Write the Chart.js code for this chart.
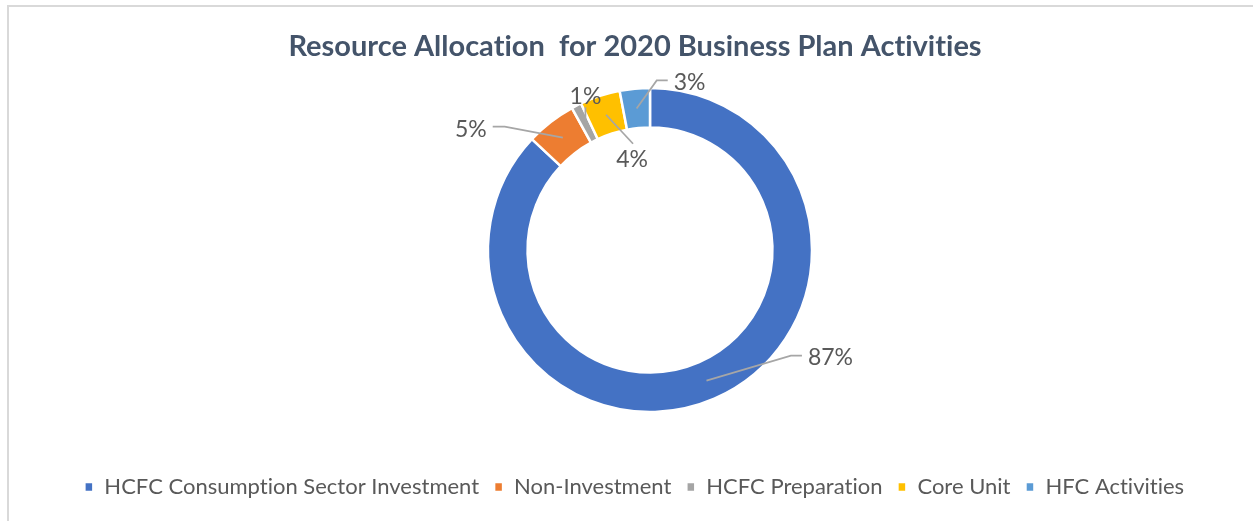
<!DOCTYPE html>
<html>
<head>
<meta charset="utf-8">
<script src="https://cdn.jsdelivr.net/npm/chart.js@4/dist/chart.umd.min.js"></script>
<style>
  html, body { margin: 0; padding: 0; background: #fff; }
  #frame {
    position: absolute; left: 7px; top: 5px;
    width: 1244px; height: 514px;
    border-left: 2px solid #d9d9d9;
    border-top: 2px solid #d9d9d9;
  }
</style>
</head>
<body>
<div id="frame"><canvas id="chart" width="1244" height="514"></canvas></div>
<script>
// data
const categories = ['HCFC Consumption Sector Investment', 'Non-Investment', 'HCFC Preparation', 'Core Unit', 'HFC Activities'];
const shares = [87, 5, 1, 4, 3];
const colors = ['#4472C4', '#ED7D31', '#A5A5A5', '#FFC000', '#5B9BD5'];

// where each percentage label sits relative to the middle of its slice
const labelPlacement = [
    { dx: 124, dy: -23, tail: 'right' },
    { dx: -92, dy: -8, tail: 'left' },
    { dx: 0, dy: -27, tail: 'up' },
    { dx: 26, dy: 45, tail: 'down' },
    { dx: 53, dy: -26, tail: 'right' }
];

const titleFont = 29;
const legendFont = 22;
const legendPad = 15;

// pushes the plot area right so the ring sits where Excel put it
const leftSpacer = {
    position: 'left', weight: 0, fullSize: false, options: {},
    top: 0, left: 0, right: 0, bottom: 0, width: 0, height: 0,
    isHorizontal() { return false; },
    update(maxWidth, maxHeight) { this.width = 30; this.height = maxHeight; },
    draw() {}
};

const sliceLabels = {
    id: 'sliceLabels',
    beforeInit(chart) {
        Chart.layouts.addBox(chart, leftSpacer);
    },
    beforeDraw(chart) {
        // no "ti" ligatures from Lato
        chart.ctx.textRendering = 'optimizeSpeed';
    },
    afterDatasetsDraw(chart) {
        const ctx = chart.ctx;
        const meta = chart.getDatasetMeta(0);
        ctx.save();
        ctx.font = '23px Lato';
        ctx.textAlign = 'center';
        ctx.textBaseline = 'middle';
        meta.data.forEach((arc, i) => {
            const p = arc.getProps(['x', 'y', 'startAngle', 'endAngle', 'innerRadius', 'outerRadius'], true);
            const mid = (p.startAngle + p.endAngle) / 2;
            const r = (p.innerRadius + p.outerRadius) / 2;
            const ax = p.x + Math.cos(mid) * r;
            const ay = p.y + Math.sin(mid) * r;
            const place = labelPlacement[i];
            const tx = ax + place.dx;
            const ty = ay + place.dy;
            const text = shares[i] + '%';
            const w = ctx.measureText(text).width;

            ctx.strokeStyle = '#A6A6A6';
            ctx.lineWidth = 1.75;
            ctx.beginPath();
            ctx.moveTo(ax, ay);
            if (place.tail === 'right') {
                ctx.lineTo(tx - w / 2 - 17, ty - 2);
                ctx.lineTo(tx - w / 2 - 6, ty - 2);
            } else if (place.tail === 'left') {
                ctx.lineTo(tx + w / 2 + 18, ty - 3);
                ctx.lineTo(tx + w / 2 + 6, ty - 3);
            } else if (place.tail === 'up') {
                ctx.lineTo(tx, ty + 11);
            } else {
                ctx.lineTo(tx + 1, ty - 16);
            }
            ctx.stroke();

            ctx.fillStyle = '#595959';
            ctx.fillText(text, tx, ty);
        });
        ctx.restore();
    }
};

new Chart(document.getElementById('chart'), {
    type: 'doughnut',
    data: {
        labels: categories,
        datasets: [{
            data: shares,
            backgroundColor: colors,
            borderColor: '#ffffff',
            borderWidth: 2.5
        }]
    },
    plugins: [sliceLabels],
    options: {
        responsive: false,
        animation: false,
        radius: 162,
        cutout: '75.6%',
        layout: { padding: { top: 0, left: 8, right: 0, bottom: 24 - legendFont / 2 } },
        plugins: {
            title: {
                display: true,
                text: 'Resource Allocation  for 2020 Business Plan Activities',
                color: '#44546A',
                font: { family: 'Lato', size: titleFont, weight: 'bold', lineHeight: 1.2 },
                padding: { top: 40 - titleFont * 0.6, bottom: 42 - titleFont * 0.6 }
            },
            legend: {
                position: 'bottom',
                title: {
                    display: true,
                    text: '',
                    font: { size: 1, lineHeight: 1 },
                    padding: { top: 0, bottom: 76 - legendFont / 2 - legendPad - 1 }
                },
                labels: {
                    boxWidth: 9,
                    boxHeight: 10,
                    padding: legendPad,
                    color: '#595959',
                    font: { family: 'Lato', size: legendFont }
                }
            },
            tooltip: { enabled: false }
        }
    }
});
</script>
</body>
</html>
